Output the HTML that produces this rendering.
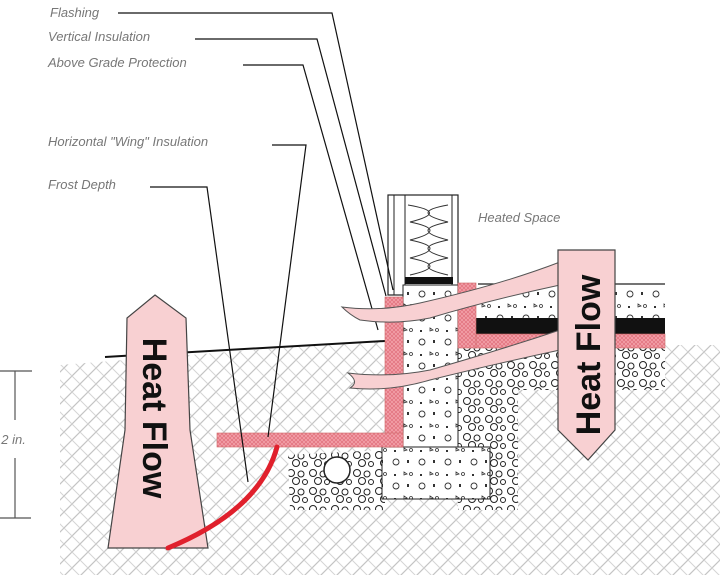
<!DOCTYPE html>
<html><head><meta charset="utf-8"><style>
html,body{margin:0;padding:0;background:#fff;width:720px;height:586px;overflow:hidden}
svg{display:block}
.lbl{font-family:"Liberation Sans",sans-serif;font-style:italic;font-size:13px;fill:#777}
</style></head><body>
<svg width="720" height="586" viewBox="0 0 720 586" xmlns="http://www.w3.org/2000/svg">
<defs>
<pattern id="soil" width="16" height="16" patternUnits="userSpaceOnUse">
<path d="M0 16L16 0M-4 4L4 -4M12 20L20 12" stroke="#c4c4c4" stroke-width="1.2"/>
<path d="M0 0L8 8M8 8L16 16" stroke="#d4d4d4" stroke-width="1"/>
</pattern>
<pattern id="pinkh" width="4" height="4" patternUnits="userSpaceOnUse">
<rect width="4" height="4" fill="#f3a0a8"/><path d="M0 4L4 0M0 0L4 4" stroke="#e0707c" stroke-width="0.7"/>
</pattern>
<pattern id="grav" width="22" height="18" patternUnits="userSpaceOnUse">
<rect width="22" height="18" fill="#fff"/>
<circle cx="5" cy="5" r="3.5" fill="none" stroke="#222" stroke-width="1"/>
<circle cx="15" cy="6" r="3" fill="none" stroke="#222" stroke-width="1"/>
<circle cx="10" cy="13" r="3.5" fill="none" stroke="#222" stroke-width="1"/>
<circle cx="19" cy="14" r="2.5" fill="none" stroke="#222" stroke-width="1"/>
</pattern>
<pattern id="conc" width="26" height="24" patternUnits="userSpaceOnUse">
<rect width="26" height="24" fill="#fff"/>
<circle cx="6" cy="6" r="3" fill="none" stroke="#333" stroke-width="0.9"/>
<rect x="17" y="4" width="2" height="3" fill="#333"/>
<path d="M14 16l3 2-3 1z" fill="none" stroke="#333" stroke-width="0.8"/>
<rect x="4" y="18" width="2" height="2" fill="#333"/>
<circle cx="21" cy="18" r="1.5" fill="none" stroke="#333" stroke-width="0.8"/>
</pattern>
</defs>
<path d="M60 365 L385 340 L385 575 L60 575Z" fill="url(#soil)"/>
<rect x="380" y="345" width="340" height="230" fill="url(#soil)"/>
<path d="M288 455 L385 450 L385 510 L290 510Z" fill="url(#grav)"/>
<rect x="458" y="345" width="207" height="45" fill="url(#grav)"/>
<rect x="458" y="390" width="60" height="120" fill="url(#grav)"/>
<circle cx="337" cy="470" r="13" fill="#fff" stroke="#222" stroke-width="1.5"/>
<path d="M105 357 L385 341" stroke="#111" stroke-width="2" fill="none"/>
<rect x="388" y="195" width="70" height="100" fill="#fff" stroke="#222" stroke-width="1.2"/>
<line x1="394" y1="195" x2="394" y2="295" stroke="#222"/>
<line x1="405" y1="195" x2="405" y2="285" stroke="#222"/>
<line x1="452" y1="195" x2="452" y2="285" stroke="#222"/>
<path d="M408 205 Q450 212 410 222 Q450 230 410 240 Q450 248 410 258 Q450 266 410 275 M448 205 Q408 212 448 222 Q408 230 448 240 Q408 248 448 258 Q408 266 448 275" stroke="#333" fill="none" stroke-width="1"/>
<rect x="405" y="277" width="48" height="7" fill="#111"/>
<rect x="403" y="285" width="55" height="165" fill="url(#conc)" stroke="#222"/>
<rect x="382" y="447" width="108" height="52" fill="url(#conc)" stroke="#222"/>
<rect x="478" y="284" width="187" height="34" fill="url(#conc)"/>
<line x1="478" y1="284" x2="665" y2="284" stroke="#222" stroke-width="1.2"/>
<rect x="475" y="318" width="190" height="16" fill="#111"/>
<rect x="475" y="334" width="190" height="14" fill="url(#pinkh)" stroke="#c66" stroke-width="0.6"/>
<rect x="458" y="283" width="18" height="65" fill="url(#pinkh)" stroke="#c66" stroke-width="0.6"/>
<rect x="385" y="297" width="18" height="150" fill="url(#pinkh)" stroke="#c66" stroke-width="0.6"/>
<rect x="217" y="433" width="186" height="14" fill="url(#pinkh)" stroke="#c66" stroke-width="0.6"/>
<g stroke="#111" stroke-width="1.2" fill="none">
<path d="M118 13 L332 13 L393 290"/>
<path d="M195 39 L317 39 L386 296"/>
<path d="M243 65 L303 65 L378 330"/>
<path d="M272 145 L306 145 L268 437"/>
<path d="M150 187 L207 187 L248 482"/>
</g>
<g fill="#f8d0d2" stroke="#555" stroke-width="1">
<path d="M342 307 Q380 312 420 303 Q500 285 560 262 L560 285 Q490 300 430 318 Q395 325 360 320 Q350 315 342 307Z"/>
<path d="M348 373 Q390 378 430 370 Q500 350 560 330 L560 350 Q490 365 430 380 Q390 392 350 388 Q360 382 348 373Z"/>
</g>
<path d="M558 250 L615 250 L615 430 L588 460 L558 430Z" fill="#f8d0d2" stroke="#444" stroke-width="1.2"/>
<text transform="translate(600,355) rotate(-90)" text-anchor="middle" font-family="Liberation Sans,sans-serif" font-weight="bold" font-size="34" fill="#111">Heat Flow</text>
<path d="M155 295 L186 318 L190 430 L208 548 L108 548 L125 430 L127 318Z" fill="#f8d0d2" stroke="#444" stroke-width="1.2"/>
<text transform="translate(143,418) rotate(90)" text-anchor="middle" font-family="Liberation Sans,sans-serif" font-weight="bold" font-size="34" fill="#111">Heat Flow</text>
<path d="M277 447 Q260 510 168 548" stroke="#e0202c" stroke-width="5" fill="none" stroke-linecap="round"/>
<g stroke="#555" stroke-width="1.2">
<line x1="0" y1="371" x2="32" y2="371"/><line x1="0" y1="518" x2="31" y2="518"/>
<line x1="15" y1="371" x2="15" y2="420"/><line x1="15" y1="458" x2="15" y2="518"/>
</g>
<text x="-6" y="444" class="lbl">12 in.</text>
<text x="50" y="17" class="lbl">Flashing</text>
<text x="48" y="41" class="lbl">Vertical Insulation</text>
<text x="48" y="67" class="lbl">Above Grade Protection</text>
<text x="48" y="146" class="lbl">Horizontal "Wing" Insulation</text>
<text x="48" y="189" class="lbl">Frost Depth</text>
<text x="478" y="222" class="lbl">Heated Space</text>
</svg>
</body></html>
